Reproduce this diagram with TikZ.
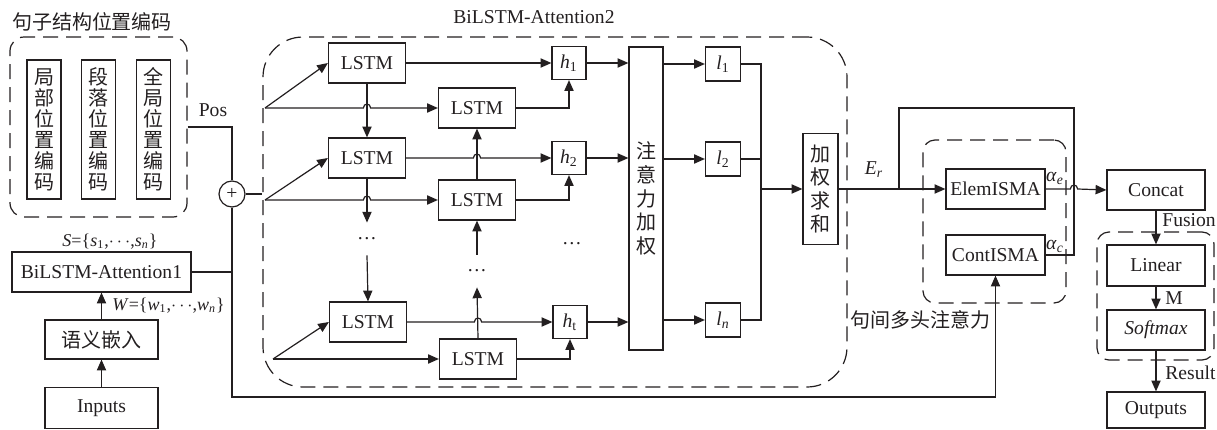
\documentclass[tikz,border=0pt]{standalone}
\usepackage{fontspec}
\setmainfont{Liberation Serif}
\newfontfamily\cjk{Noto Sans CJK SC}
\usetikzlibrary{arrows.meta}

\definecolor{ink}{RGB}{35,31,32}
\newcommand{\fs}{\fontsize{9.8}{11}\selectfont}
\newcommand{\fss}{\fontsize{9}{10}\selectfont}
\newcommand{\cjkv}{\fontsize{10}{10.5}\selectfont\cjk}
\newcommand{\cjkw}{\fontsize{10}{11.8}\selectfont\cjk}
% small hop where a line crosses another one
\newcommand{\hop}[1]{-- ([xshift=-1.8pt]#1) .. controls +(0,2.6pt) and +(0,2.6pt) .. ([xshift=1.8pt]#1)}

\tikzset{
  box/.style={draw=ink, line width=0.6pt, inner sep=0pt, font=\fs, text=ink},
  arr/.style={-{Triangle[length=5.4pt,width=4.6pt]}, line width=0.6pt, draw=ink},
  ln/.style={line width=0.6pt, draw=ink},
  grp/.style={draw=ink, line width=0.6pt, dash pattern=on 7.5pt off 4pt, inner sep=0pt},
  lbl/.style={inner sep=0pt, font=\fs, text=ink}
}

\begin{document}
\begin{tikzpicture}
        [x=0.5pt,y=-0.5pt]
        \useasboundingbox (0,0) rectangle (1217,429);

        % position encoding group
        \node[lbl, font=\fontsize{10}{11}\selectfont\cjk] (postitle) at (92,22) {句子结构位置编码};
        \node[grp, rounded corners=7pt, minimum width=88.5pt, minimum height=90pt] (posgrp) at (98.5,127) {};
        \node[box, minimum width=17pt, minimum height=69.5pt, font=\cjkv, align=center] (locpos) at (44,129.5) {局\\部\\位\\置\\编\\码};
        \node[box, minimum width=17pt, minimum height=69.5pt, font=\cjkv, align=center] (parpos) at (98.5,129.5) {段\\落\\位\\置\\编\\码};
        \node[box, minimum width=17pt, minimum height=69.5pt, font=\cjkv, align=center] (glopos) at (153.5,129.5) {全\\局\\位\\置\\编\\码};
        \node[lbl] (poslbl) at (213,110) {Pos};
        \node[draw=ink, line width=0.6pt, circle, minimum size=13pt, inner sep=0pt, font=\fs, text=ink] (plus) at (232,194) {+};

        % input side
        \node[box, minimum width=89.5pt, minimum height=20pt] (bla1) at (101.5,272) {BiLSTM-Attention1};
        \node[lbl, font=\fss] (slbl) at (110,242) {\textit{S}=\{\textit{s}\textsubscript{1},$\cdots$,\textit{s}\textsubscript{\textit{n}}\}};
        \node[box, minimum width=56.5pt, minimum height=19.5pt, font=\fontsize{10}{11}\selectfont\cjk] (emb) at (101.5,339.5) {语义嵌入};
        \node[lbl, anchor=west, font=\fss] (wlbl) at (112,306) {\textit{W}=\{\textit{w}\textsubscript{1},$\cdots$,\textit{w}\textsubscript{\textit{n}}\}};
        \node[box, minimum width=56.5pt, minimum height=20.5pt] (inputs) at (101.5,408) {Inputs};

        \draw[arr] (inputs.north) -- (emb.south);
        \draw[arr] (emb.north) -- (bla1.south);
        \draw[ln] (posgrp.east) -| (plus.north);
        \draw[ln] (bla1.east) -- (bla1.east -| plus.south);

        % BiLSTM-Attention2
        \node[lbl] (att2lbl) at (534,17) {BiLSTM-Attention2};
        \node[grp, rounded corners=20pt, minimum width=292pt, minimum height=175pt] (att2) at (555,212) {};
        \draw[ln] (plus.east) -- (plus.east -| att2.west);

        \node[box, minimum width=38.5pt, minimum height=20pt] (la1) at (367,63) {LSTM};
        \node[box, minimum width=38.5pt, minimum height=20pt] (la2) at (367,158) {LSTM};
        \node[box, minimum width=38.5pt, minimum height=20pt] (la3) at (368,322) {LSTM};
        \node[box, minimum width=38.5pt, minimum height=20pt] (lb1) at (477,108) {LSTM};
        \node[box, minimum width=38.5pt, minimum height=20pt] (lb2) at (477,200) {LSTM};
        \node[box, minimum width=38.5pt, minimum height=20pt] (lb3) at (478,359) {LSTM};
        \node[box, minimum width=17pt, minimum height=16.5pt] (h1) at (569,63) {\textit{h}\textsubscript{1}};
        \node[box, minimum width=17pt, minimum height=16.5pt] (h2) at (569,158) {\textit{h}\textsubscript{2}};
        \node[box, minimum width=17pt, minimum height=16.5pt] (ht) at (570,322) {\textit{h}\textsubscript{t}};
        \node[lbl, minimum height=16pt] (vd1) at (367,239) {…};
        \node[lbl, minimum height=16pt] (vd2) at (477,271) {…};
        \node[lbl] (vd3) at (572,244) {…};

        \coordinate (src1) at (265,108);
        \coordinate (src2) at (265,200);
        \coordinate (src3) at (273,359);
        \coordinate (j1) at (la1.south |- src1);
        \coordinate (j2) at (la1.south |- src2);
        \coordinate (j3) at (lb1.south |- la2.east);
        \coordinate (j4) at (lb3.north |- la3.east);

        \draw[arr] (src1) -- (la1.west);
        \draw[arr] (src1) \hop{j1} -- (lb1.west);
        \draw[arr] (src2) -- (la2.west);
        \draw[arr] (src2) \hop{j2} -- (lb2.west);
        \draw[arr] (src3) -- (la3.west);
        \draw[arr] (src3) -- (lb3.west);

        \draw[arr] (la1.south) -- (la2.north);
        \draw[arr] (la2.south) -- (vd1.north);
        \draw[arr] (vd1.south) -- (la3.north);
        \draw[arr] (lb3.north) -- (vd2.south);
        \draw[arr] (vd2.north) -- (lb2.south);
        \draw[arr] (lb2.north) -- (lb1.south);

        \draw[arr] (la1.east) -- (h1.west);
        \draw[arr] (lb1.east) -| (h1.south);
        \draw[arr] (la2.east) \hop{j3} -- (h2.west);
        \draw[arr] (lb2.east) -| (h2.south);
        \draw[arr] (la3.east) \hop{j4} -- (ht.west);
        \draw[arr] (lb3.east) -| (ht.south);

        % attention weighting
        \node[box, minimum width=17pt, minimum height=151.5pt, font=\cjkw, align=center] (attw) at (646,198.5) {注\\意\\力\\加\\权};
        \node[box, minimum width=17.5pt, minimum height=17pt] (l1) at (723,64) {\textit{l}\textsubscript{1}};
        \node[box, minimum width=17.5pt, minimum height=17pt] (l2) at (723,159) {\textit{l}\textsubscript{2}};
        \node[box, minimum width=17.5pt, minimum height=17pt] (lnn) at (723,320) {\textit{l}\textsubscript{\textit{n}}};
        \node[box, minimum width=17.5pt, minimum height=55.5pt, font=\cjkw, align=center] (wsum) at (820.5,189) {加\\权\\求\\和};

        \draw[arr] (h1.east) -- (h1.east -| attw.west);
        \draw[arr] (h2.east) -- (h2.east -| attw.west);
        \draw[arr] (ht.east) -- (ht.east -| attw.west);
        \draw[arr] (attw.east |- l1.west) -- (l1.west);
        \draw[arr] (attw.east |- l2.west) -- (l2.west);
        \draw[arr] (attw.east |- lnn.west) -- (lnn.west);

        \coordinate (lbus) at (761,189);
        \draw[ln] (l1.east) -| (lbus);
        \draw[ln] (l2.east) -| (lbus);
        \draw[ln] (lnn.east) -| (lbus);
        \draw[arr] (lbus) -- (wsum.west);

        % inter-sentence multi-head attention
        \node[grp, rounded corners=6pt, minimum width=71.5pt, minimum height=81.5pt] (isma) at (994.5,221.5) {};
        \node[lbl, font=\fontsize{10}{11}\selectfont\cjk] (ismalbl) at (920,320) {句间多头注意力};
        \node[box, minimum width=49.5pt, minimum height=20pt] (elem) at (995.5,189) {ElemISMA};
        \node[box, minimum width=49.5pt, minimum height=20pt] (cont) at (995.5,255) {ContISMA};
        \node[lbl] (erlbl) at (874,170) {\textit{E}\textsubscript{\textit{r}}};
        \node[lbl] (aelbl) at (1055,178) {\textit{α}\textsubscript{\textit{e}}};
        \node[lbl] (aclbl) at (1055,246) {\textit{α}\textsubscript{\textit{c}}};

        % fusion and output
        \node[box, minimum width=49pt, minimum height=20pt] (concat) at (1156,190) {Concat};
        \node[grp, rounded corners=6pt, minimum width=58.5pt, minimum height=64pt] (outgrp) at (1155.5,296) {};
        \node[box, minimum width=49pt, minimum height=20.5pt] (linear) at (1156,265.5) {Linear};
        \node[box, minimum width=49pt, minimum height=20pt] (softmax) at (1156,330) {\textit{Softmax}};
        \node[box, minimum width=49pt, minimum height=18pt] (outputs) at (1156,410) {Outputs};
        \node[lbl, anchor=west] (fuslbl) at (1162,220) {Fusion};
        \node[lbl, anchor=west] (mlbl) at (1165,298) {M};
        \node[lbl, anchor=west] (reslbl) at (1165,373) {Result};

        \coordinate (erbr) at (899,189);
        \coordinate (loopc) at (1074,108);
        \coordinate (j5) at (loopc |- elem.east);
        \coordinate (lowrun) at (232,397);
        \draw[arr] (wsum.east) -- (elem.west);
        \draw[ln] (erbr) |- (loopc) |- (cont.east);
        \draw[arr] (elem.east) \hop{j5} -- (concat.west);
        \draw[arr] (plus.south) -- (lowrun) -| (cont.south);
        \draw[arr] (concat.south) -- (linear.north);
        \draw[arr] (linear.south) -- (softmax.north);
        \draw[arr] (softmax.south) -- (outputs.north);
      \end{tikzpicture}
\end{document}
